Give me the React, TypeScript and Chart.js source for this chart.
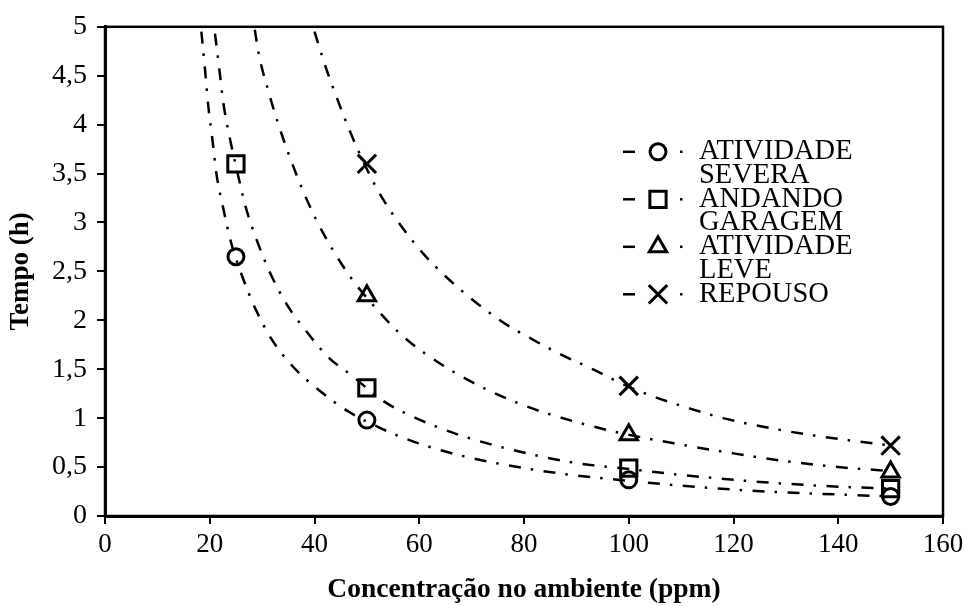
import React, { useEffect, useRef } from 'react';
import { Chart, registerables } from 'chart.js';
import { drawPoint } from 'chart.js/helpers';

Chart.register(...registerables);

const FONT = '"Liberation Serif", "Times New Roman", Times, serif';

// Measured points (markers)
const severaX = [25, 50, 100, 150];
const severaY = [2.65, 0.98, 0.37, 0.2];
const garagemX = [25, 50, 100, 150];
const garagemY = [3.6, 1.31, 0.49, 0.28];
const leveX = [50, 100, 150];
const leveY = [2.25, 0.83, 0.45];
const repousoX = [50, 100, 150];
const repousoY = [3.6, 1.33, 0.72];

// Trend curves
const severaCurveX = [18.4, 19.1, 19.7, 20.5, 21.3, 22.6, 24.1, 26.2, 28.7, 31.9, 36.0, 41.0, 46.4, 52.1, 58.4, 67, 76.7, 89, 100, 110, 120, 130, 140, 150];
const severaCurveY = [4.95, 4.56, 4.2, 3.85, 3.49, 3.14, 2.79, 2.45, 2.12, 1.8, 1.52, 1.28, 1.07, 0.91, 0.77, 0.63, 0.52, 0.42, 0.36, 0.31, 0.27, 0.24, 0.22, 0.2];
const garagemCurveX = [21.0, 21.8, 22.6, 23.8, 25.25, 26.8, 28.9, 31.4, 34.5, 38.4, 42.7, 47.0, 53.0, 59.0, 67, 76.7, 89, 100, 110, 120, 130, 140, 150];
const garagemCurveY = [4.93, 4.58, 4.22, 3.87, 3.52, 3.17, 2.83, 2.5, 2.18, 1.89, 1.62, 1.44, 1.18, 1.01, 0.84, 0.69, 0.55, 0.48, 0.42, 0.37, 0.33, 0.3, 0.28];
const leveCurveX = [28.6, 29.4, 31.1, 33.0, 35.2, 37.6, 40.4, 43.6, 47.3, 50, 56.2, 61.4, 70, 80, 90, 100, 110, 120, 130, 140, 150];
const leveCurveY = [4.97, 4.71, 4.36, 4.02, 3.68, 3.35, 3.02, 2.71, 2.41, 2.23, 1.87, 1.65, 1.37, 1.13, 0.96, 0.83, 0.73, 0.64, 0.56, 0.5, 0.46];
const repousoCurveX = [40, 42, 44.3, 46.7, 49.6, 52.5, 56.2, 60.3, 65, 75.4, 81.1, 87.1, 93.1, 100, 104.8, 111, 118, 131, 144, 150];
const repousoCurveY = [4.95, 4.61, 4.27, 3.94, 3.59, 3.29, 2.99, 2.71, 2.45, 2.0, 1.82, 1.65, 1.5, 1.32, 1.22, 1.11, 1.0, 0.86, 0.76, 0.72];

const seriesLabels = [['ATIVIDADE', 'SEVERA'], ['ANDANDO', 'GARAGEM'], ['ATIVIDADE', 'LEVE'], ['REPOUSO']];
const seriesStyles = ['circle', 'rect', 'triangle', 'crossRot'];
const seriesRadius = [8, 11.5, 10, 13];

const xTitle = 'Concentração no ambiente (ppm)';
const yTitle = 'Tempo (h)';

const DASH = [12, 10, 2.5, 10.5];

const zip = (xs: number[], ys: number[]) => xs.map((x, i) => ({ x, y: ys[i] }));

const legendPlugin = {
  id: 'customLegend',
  afterDraw(chart: any) {
    const { ctx, chartArea } = chart;
    const x0 = chartArea.right - 322;
    let y = chartArea.top + 125;
    ctx.save();
    seriesLabels.forEach((lines, i) => {
      ctx.setLineDash([]);
      ctx.strokeStyle = '#000';
      ctx.fillStyle = '#000';
      ctx.lineWidth = 2.5;
      ctx.beginPath();
      ctx.moveTo(x0 + 2, y);
      ctx.lineTo(x0 + 14, y);
      ctx.stroke();
      ctx.fillRect(x0 + 59, y - 1.25, 2.5, 2.5);
      ctx.fillStyle = 'rgba(0,0,0,0)';
      ctx.lineWidth = 3;
      drawPoint(ctx, { pointStyle: seriesStyles[i], radius: seriesRadius[i], borderWidth: 3, rotation: 0 }, x0 + 37, y);
      ctx.fillStyle = '#000';
      ctx.font = `28.5px ${FONT}`;
      ctx.textBaseline = 'middle';
      ctx.textAlign = 'left';
      lines.forEach((t, j) => ctx.fillText(t, x0 + 78, y + j * 23.5));
      y += 47.5;
    });
    ctx.restore();
  },
};

const framePlugin = {
  id: 'frame',
  afterDraw(chart: any) {
    const { ctx, chartArea } = chart;
    ctx.save();
    ctx.strokeStyle = '#000';
    ctx.lineWidth = 2.5;
    ctx.setLineDash([]);
    ctx.strokeRect(chartArea.left, chartArea.top, chartArea.right - chartArea.left, chartArea.bottom - chartArea.top);
    ctx.restore();
  },
};

export default function App() {
  const ref = useRef<HTMLCanvasElement>(null);
  useEffect(() => {
    if (!ref.current) return;
    const curve = (xs: number[], ys: number[]) => ({
      data: zip(xs, ys),
      showLine: true,
      borderColor: '#000',
      borderWidth: 2.5,
      borderDash: DASH,
      pointRadius: 0,
      cubicInterpolationMode: 'monotone',
      fill: false,
    });
    const marks = (xs: number[], ys: number[], i: number) => ({
      data: zip(xs, ys),
      showLine: false,
      pointStyle: seriesStyles[i],
      pointRadius: seriesRadius[i],
      pointBorderWidth: 3,
      pointBorderColor: '#000',
      pointBackgroundColor: 'rgba(0,0,0,0)',
      clip: false,
    });
    const chart = new Chart(ref.current, {
      type: 'scatter',
      data: {
        datasets: [
          marks(severaX, severaY, 0),
          marks(garagemX, garagemY, 1),
          marks(leveX, leveY, 2),
          marks(repousoX, repousoY, 3),
          curve(severaCurveX, severaCurveY),
          curve(garagemCurveX, garagemCurveY),
          curve(leveCurveX, leveCurveY),
          curve(repousoCurveX, repousoCurveY),
        ] as any,
      },
      options: {
        animation: false,
        responsive: false,
        layout: { padding: { top: 25, right: 21, left: 0, bottom: 0 } },
        plugins: { legend: { display: false }, tooltip: { enabled: false } },
        scales: {
          x: {
            type: 'linear',
            min: 0,
            max: 160,
            afterFit: (s: any) => { s.height = 90; s.paddingRight = 0; s.paddingLeft = 0; },
            ticks: { stepSize: 20, color: '#000', padding: 5, font: { family: FONT, size: 27 } },
            grid: { drawOnChartArea: false, drawTicks: true, tickLength: 8, color: '#000', lineWidth: 2 },
            border: { display: true, color: '#000', width: 3 },
            title: { display: true, text: xTitle, color: '#000', padding: { top: 0, bottom: 0 }, font: { family: FONT, size: 27.5, weight: 'bold' } },
          },
          y: {
            type: 'linear',
            min: 0,
            max: 5,
            afterFit: (s: any) => { s.width = 105; },
            ticks: {
              stepSize: 0.5,
              color: '#000',
              padding: 10,
              font: { family: FONT, size: 28 },
              callback: (v: any) => String(v).replace('.', ','),
            },
            grid: { drawOnChartArea: false, drawTicks: true, tickLength: 8, color: '#000', lineWidth: 2 },
            border: { display: true, color: '#000', width: 3 },
            title: { display: true, text: yTitle, color: '#000', padding: { top: 5, bottom: 0 }, font: { family: FONT, size: 27, weight: 'bold' } },
          },
        },
      } as any,
      plugins: [framePlugin, legendPlugin],
    });
    return () => chart.destroy();
  }, []);
  return (
    <div style={{ position: 'fixed', left: 0, top: 0, width: 964, height: 606, background: '#fff' }}>
      <canvas ref={ref} width={964} height={606} />
    </div>
  );
}
